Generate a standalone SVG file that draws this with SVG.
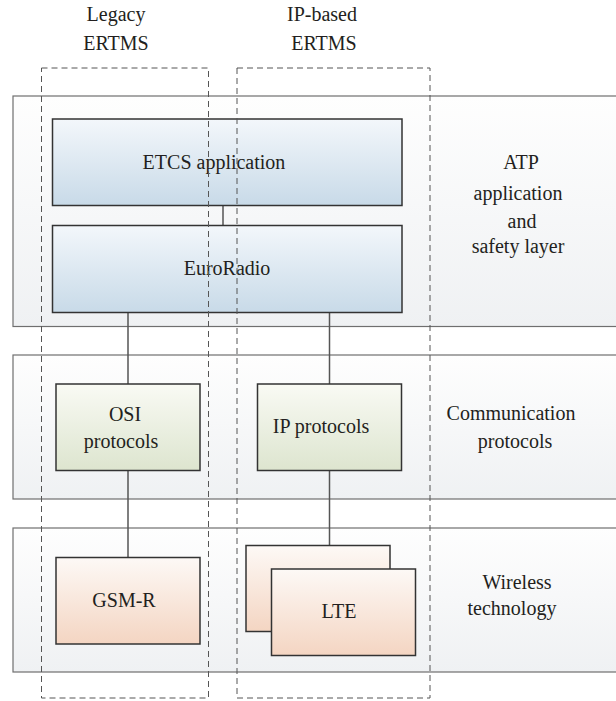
<svg xmlns="http://www.w3.org/2000/svg" width="616" height="701" viewBox="0 0 616 701">
<defs>
<linearGradient id="gLayer" x1="0" y1="0" x2="0" y2="1"><stop offset="0" stop-color="#fefefe"/><stop offset="1" stop-color="#eff1f3"/></linearGradient>
<linearGradient id="gBlue" x1="0" y1="0" x2="0" y2="1"><stop offset="0" stop-color="#f3f7fb"/><stop offset="1" stop-color="#c8dae8"/></linearGradient>
<linearGradient id="gGreen" x1="0" y1="0" x2="0" y2="1"><stop offset="0" stop-color="#f9faf4"/><stop offset="1" stop-color="#dde5cf"/></linearGradient>
<linearGradient id="gOrange" x1="0" y1="0" x2="0" y2="1"><stop offset="0" stop-color="#fdf9f6"/><stop offset="1" stop-color="#f4d5c2"/></linearGradient>
</defs>
<style>
.layer{fill:url(#gLayer);stroke:#6f6f6f;stroke-width:1.2}
.box{stroke:#333;stroke-width:1.5}
.blue{fill:url(#gBlue)}
.green{fill:url(#gGreen)}
.orange{fill:url(#gOrange)}
.conn{stroke:#555;stroke-width:1.5;fill:none}
.dash{fill:none;stroke:#555;stroke-width:1;stroke-dasharray:6 4}
.t{font-family:'Liberation Serif','DejaVu Serif',serif;font-size:20px;fill:#231f20;text-anchor:middle}
</style>
<g id="layer-atp">
<rect class="layer" x="13" y="96" width="610" height="230.5"/>
<text class="t" x="521" y="169">ATP</text>
<text class="t" x="518" y="200">application</text>
<text class="t" x="522" y="228">and</text>
<text class="t" x="518" y="253">safety layer</text>
</g>
<g id="layer-comm">
<rect class="layer" x="13" y="355" width="610" height="144"/>
<text class="t" x="511" y="420">Communication</text>
<text class="t" x="515" y="448">protocols</text>
</g>
<g id="layer-wireless">
<rect class="layer" x="13" y="528" width="610" height="144"/>
<text class="t" x="517" y="589">Wireless</text>
<text class="t" x="512" y="615">technology</text>
</g>
<g id="connectors">
<line class="conn" x1="223" y1="205.5" x2="223" y2="225.5"/>
<line class="conn" x1="128" y1="312.5" x2="128" y2="384"/>
<line class="conn" x1="329.5" y1="312.5" x2="329.5" y2="384"/>
<line class="conn" x1="128" y1="470.5" x2="128" y2="557.5"/>
<line class="conn" x1="329.5" y1="470.5" x2="329.5" y2="545.5"/>
</g>
<g id="etcs">
<rect class="box blue" x="52.5" y="119" width="349.5" height="86.5"/>
<text class="t" x="214" y="169">ETCS application</text>
</g>
<g id="euroradio">
<rect class="box blue" x="52.5" y="225.5" width="349.5" height="87"/>
<text class="t" x="227" y="275">EuroRadio</text>
</g>
<g id="osi">
<rect class="box green" x="56" y="384" width="144" height="86.5"/>
<text class="t" x="125" y="421">OSI</text>
<text class="t" x="121" y="448">protocols</text>
</g>
<g id="ip">
<rect class="box green" x="257.5" y="384" width="144" height="86.5"/>
<text class="t" x="321" y="433">IP protocols</text>
</g>
<g id="gsmr">
<rect class="box orange" x="56" y="557.5" width="144" height="86.5"/>
<text class="t" x="124" y="607">GSM-R</text>
</g>
<g id="lte">
<rect class="box orange" x="246" y="545.5" width="144" height="86"/>
<rect class="box orange" x="271.5" y="569" width="144" height="86.5"/>
<text class="t" x="339" y="618">LTE</text>
</g>
<g id="legacy-ertms">
<rect class="dash" x="41.5" y="68" width="167" height="630"/>
<text class="t" x="116" y="21">Legacy</text>
<text class="t" x="116" y="50">ERTMS</text>
</g>
<g id="ip-ertms">
<rect class="dash" x="237" y="68" width="193" height="630"/>
<text class="t" x="322" y="21">IP-based</text>
<text class="t" x="324" y="50">ERTMS</text>
</g>
</svg>
